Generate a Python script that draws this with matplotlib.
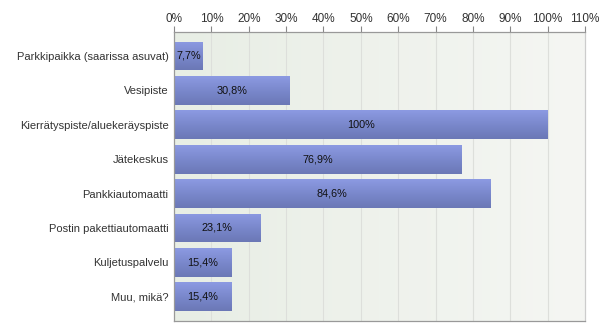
import numpy as np
import matplotlib
matplotlib.use("Agg")
import matplotlib.pyplot as plt
from matplotlib.colors import LinearSegmentedColormap

plt.rcParams["font.family"] = ["Liberation Sans", "DejaVu Sans"]

# Survey answers and shares (%)
categories = [
    "Parkkipaikka (saarissa asuvat)",
    "Vesipiste",
    "Kierrätyspiste/aluekeräyspiste",
    "Jätekeskus",
    "Pankkiautomaatti",
    "Postin pakettiautomaatti",
    "Kuljetuspalvelu",
    "Muu, mikä?",
]
shares = [7.7, 30.8, 100, 76.9, 84.6, 23.1, 15.4, 15.4]
share_labels = ["7,7%", "30,8%", "100%", "76,9%", "84,6%", "23,1%", "15,4%", "15,4%"]
ticks = np.arange(0, 111, 10)

fig = plt.figure(figsize=(6, 3.36), dpi=100)
ax = fig.add_axes([0.29, 0.045, 0.685, 0.86])

y = np.arange(len(categories))
ax.set_xlim(0, 110)
ax.set_ylim(7.70, -0.70)

# soft background shading
bg = LinearSegmentedColormap.from_list("bg", ["#e8eee5", "#f5f6f3"])
ax.imshow(np.linspace(0, 1, 256).reshape(1, -1), cmap=bg, aspect="auto",
          extent=[0, 1, 0, 1], transform=ax.transAxes, zorder=0)

for t in ticks[1:-1]:
    ax.axvline(t, color="#dddfdb", lw=0.8, zorder=1)

bars = ax.barh(y, shares, height=0.84, color="none", edgecolor="none", zorder=2)
bar_cmap = LinearSegmentedColormap.from_list("bar", ["#8c9ae2", "#7a88cc", "#6b78b6"])
grad = np.linspace(0, 1, 64).reshape(-1, 1)
for b, lab in zip(bars, share_labels):
    x0, yc, w, h = b.get_x(), b.get_y(), b.get_width(), b.get_height()
    im = ax.imshow(grad, cmap=bar_cmap, aspect="auto",
                   extent=[x0, x0 + w, yc + h, yc], zorder=2)
    im.set_clip_path(b)
    ax.text(x0 + w / 2, yc + h / 2, lab, ha="center", va="center",
            fontsize=7.8, color="#111111", zorder=3)

ax.set_yticks(y)
ax.set_yticklabels(categories, fontsize=8, color="#333333")
ax.tick_params(axis="y", length=0, pad=4)

ax.set_xticks(ticks)
ax.set_xticklabels([f"{t}%" for t in ticks], fontsize=8.5, color="#333333")
ax.xaxis.tick_top()
ax.tick_params(axis="x", direction="out", length=4, width=0.8, color="#888888", pad=1)

for side in ["left", "bottom", "top"]:
    ax.spines[side].set_color("#999999")
    ax.spines[side].set_linewidth(0.9)
ax.spines["right"].set_color("#cccccc")
ax.spines["right"].set_linewidth(0.9)

fig.savefig("out.png", dpi=100)
